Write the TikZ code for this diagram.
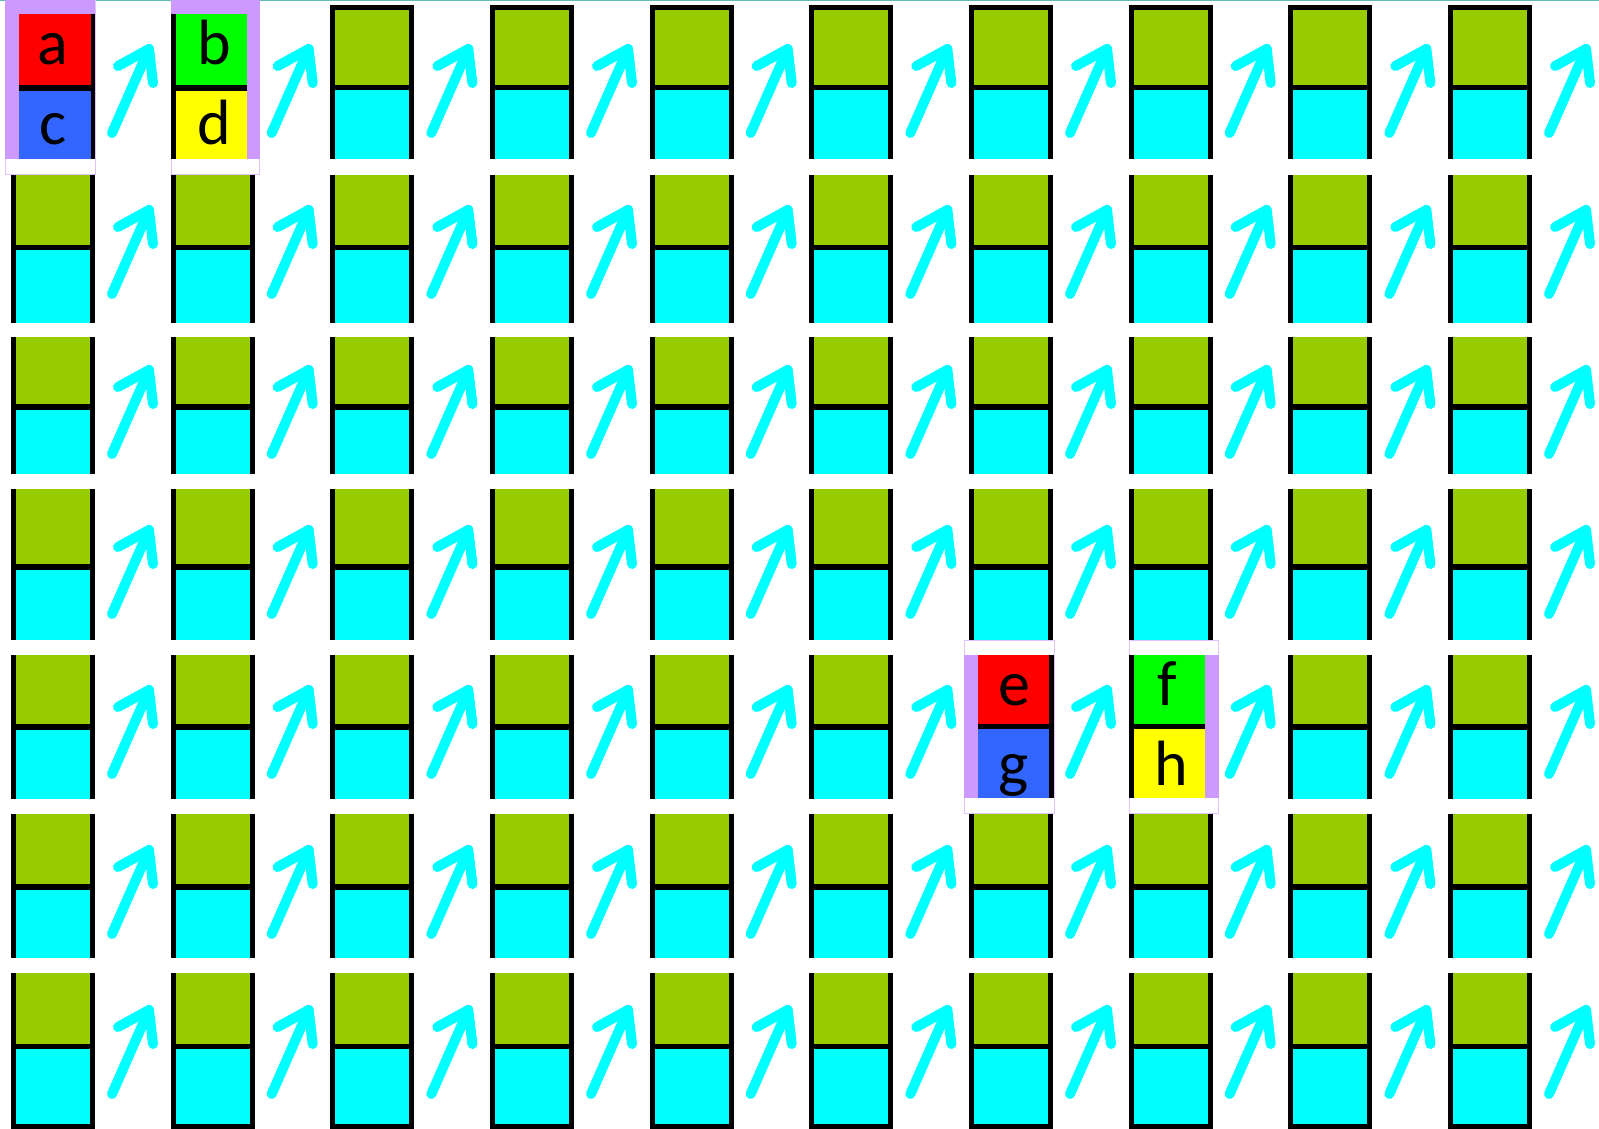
\documentclass[tikz,border=0pt]{standalone}
\usepackage{fontspec}
\newfontfamily\lblfont{Carlito}
\definecolor{cellolive}{HTML}{99CC00}
\definecolor{cellcyan}{HTML}{00FFFF}
\definecolor{hlpurple}{HTML}{CC99FF}
\definecolor{cellred}{HTML}{FF0000}
\definecolor{cellblue}{HTML}{3366FF}
\definecolor{cellgreen}{HTML}{00FF00}
\definecolor{cellyellow}{HTML}{FFFF00}
\definecolor{topline}{HTML}{5FB9B9}
\tikzset{
  arrowstroke/.style={draw=cellcyan, line width=10pt, line cap=round, line join=round},
  lbl/.style={font=\lblfont\fontsize{64}{68}\selectfont, inner sep=0pt, anchor=base, text=black},
  hloutline/.style={draw=hlpurple!60, line width=0.8pt}
}
\begin{document}
\begin{tikzpicture}[x=1pt,y=-1pt]
\useasboundingbox (0,0) rectangle (1599,1129);
\fill[white] (0,0) rectangle (1599,1129);
\draw[topline, line width=1.5pt] (0,0.75) -- (1599,0.75);
% cells
\foreach \r/\t/\da/\db/\b/\ty in {1/10/85/90/159/133, 2/175/245/250/323/294, 3/337/404/410/474/454, 4/489/564/570/640/614, 5/655/724/730/799/774, 6/814/884/890/958/934, 7/973/1044/1049/1124/1094}{
  \foreach \k in {1,...,10}{
    \pgfmathsetmacro\L{11+(\k-1)*159.67}
    \pgfmathsetmacro\R{\L+84}
    \fill[cellolive] (\L+5,\t) rectangle (\L+79,\da);
    \fill[cellcyan] (\L+5,\db) rectangle (\L+79,\b);
    \fill[black] (\L,\t) rectangle (\L+5,\b);
    \fill[black] (\L+79,\t) rectangle (\R,\b);
    \fill[black] (\L,\da) rectangle (\R,\db);
    \coordinate (t-\r-\k) at (\R+17,\ty);
    \coordinate (h-\r-\k) at (\R+54,\ty-84);
    \draw[arrowstroke] (t-\r-\k) -- (h-\r-\k);
    \draw[arrowstroke] ([shift={(-31,17)}]h-\r-\k) -- (h-\r-\k) -- ([shift={(4,34)}]h-\r-\k);
  }
}
% top border row 1, bottom border row 7
\foreach \k in {3,...,10}{
  \pgfmathsetmacro\L{11+(\k-1)*159.67}
  \fill[black] (\L,5) rectangle (\L+84,10.5);
}
\foreach \k in {1,...,10}{
  \pgfmathsetmacro\L{11+(\k-1)*159.67}
  \fill[black] (\L,1124) rectangle (\L+84,1129);
}
% highlight outlines
\fill[white] (5,0) rectangle (95,174.5);
\fill[white] (171,0) rectangle (260,174.5);
\fill[white] (964,641) rectangle (1054,813.5);
\fill[white] (1129,641) rectangle (1219,813.5);
\draw[hloutline] (5.4,0) rectangle (95,174.6);
\draw[hloutline] (171,0) rectangle (259.6,174.6);
\draw[hloutline] (964.4,640.6) rectangle (1054,813.6);
\draw[hloutline] (1129,640.6) rectangle (1218.6,813.6);
% highlighted cell a/c
\fill[hlpurple] (5,0) rectangle (95,159);
\fill[cellred] (19,14) rectangle (91,85);
\fill[cellblue] (19,91) rectangle (91,159);
\fill[black] (19,85) rectangle (91,91);
\fill[black] (91,14) rectangle (95,159);
% highlighted cell b/d
\fill[hlpurple] (171,0) rectangle (260,159);
\fill[cellgreen] (176,14) rectangle (247,85);
\fill[cellyellow] (176,91) rectangle (247,159);
\fill[black] (176,85) rectangle (247,91);
\fill[black] (171,14) rectangle (176,159);
% highlighted cell e/g
\fill[hlpurple] (964,655) rectangle (1054,798);
\fill[cellred] (978,655) rectangle (1049,724);
\fill[cellblue] (978,729) rectangle (1049,798);
\fill[black] (978,724) rectangle (1049,729);
\fill[black] (1049,655) rectangle (1054,798);
% highlighted cell f/h
\fill[hlpurple] (1129,655) rectangle (1219,798);
\fill[cellgreen] (1134,655) rectangle (1205,724);
\fill[cellyellow] (1134,729) rectangle (1205,798);
\fill[black] (1134,724) rectangle (1205,729);
\fill[black] (1129,655) rectangle (1134,798);
% labels
\node[lbl] (la) at (53,65) {a};
\node[lbl] (lc) at (53,145) {c};
\node[lbl] (lb) at (214,65) {b};
\node[lbl] (ld) at (214,145) {d};
\node[lbl] (le) at (1014,705) {e};
\node[lbl] (lg) at (1014,785) {g};
\node[lbl] (lf) at (1167,705) {f};
\node[lbl] (lh) at (1171,785) {h};
\end{tikzpicture}
\end{document}
